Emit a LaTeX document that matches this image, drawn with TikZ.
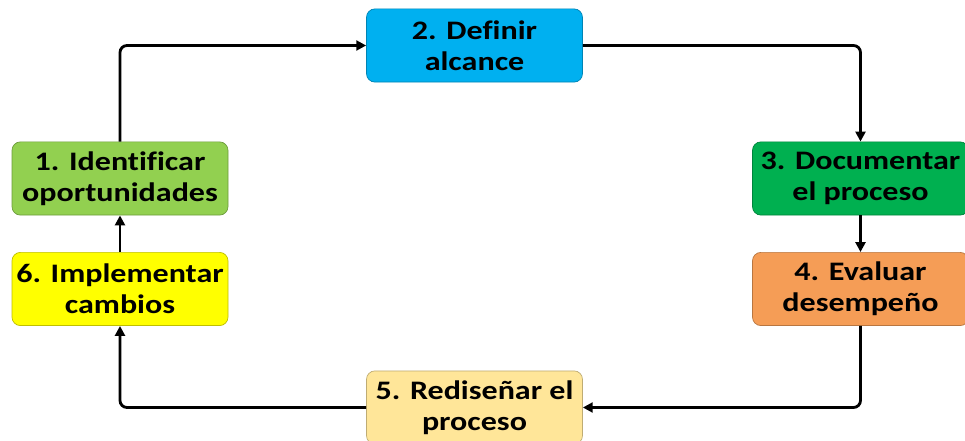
\documentclass[tikz,border=0pt]{standalone}
\usepackage{fontspec}
\setmainfont{Carlito}[Ligatures=NoCommon, FakeStretch=1.2]
\usetikzlibrary{arrows.meta}
\definecolor{verdeclaro}{HTML}{92D050}
\definecolor{celeste}{HTML}{00B0F0}
\definecolor{verdeosc}{HTML}{00B050}
\definecolor{naranja}{HTML}{F59D56}
\definecolor{amarillo}{HTML}{FFFF00}
\definecolor{crema}{HTML}{FFE699}
\tikzset{
  paso/.style={rounded corners=6pt, minimum width=5.4cm, minimum height=1.83cm,
    align=center, font=\bfseries\fontsize{19}{22}\selectfont,
    draw=#1!75!black, fill=#1, line width=0.5pt, inner sep=2pt},
  flecha/.style={-{Triangle[length=7pt,width=7pt]}, line width=2pt, rounded corners=5pt}
}
\begin{document}
\begin{tikzpicture}
\clip (0,0) rectangle (24.125,11.025);
% los seis pasos
\node[paso=verdeclaro] (identificar) at (3.0,6.5625) {1. Identificar\\oportunidades};
\node[paso=celeste] (definir) at (11.8625,9.8875) {2. Definir\\alcance};
\node[paso=verdeosc] (documentar) at (21.5125,6.5625) {3. Documentar\\el proceso};
\node[paso=naranja] (evaluar) at (21.5125,3.8) {4. Evaluar\\desempeño};
\node[paso=crema] (redisenar) at (11.8625,0.8375) {5. Rediseñar el\\proceso};
\node[paso=amarillo] (implementar) at (3.0,3.8) {6. Implementar\\cambios};
% el ciclo
\draw[flecha] (identificar.north) |- (definir.west);
\draw[flecha] (definir.east) -| (documentar.north);
\draw[flecha] (documentar) -- (evaluar);
\draw[flecha] (evaluar.south) |- (redisenar.east);
\draw[flecha] (redisenar.west) -| (implementar.south);
\draw[flecha] (implementar) -- (identificar);
\end{tikzpicture}
\end{document}
